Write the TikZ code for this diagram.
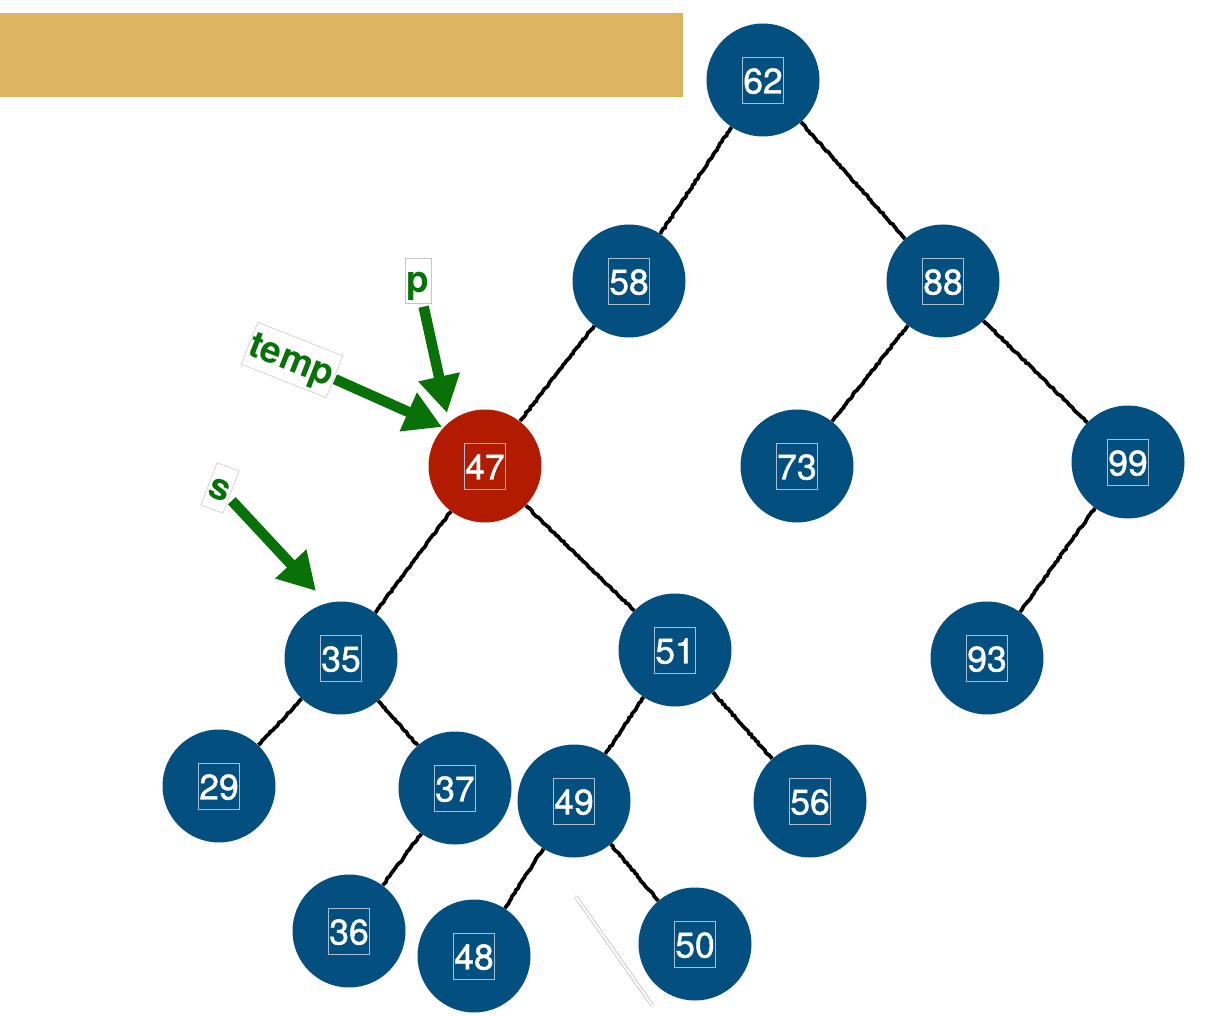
\documentclass[tikz,border=0pt]{standalone}
\usepackage{fontspec}
\setmainfont{TeX Gyre Heros}
\newfontfamily\numfont[FakeBold=1.2]{TeX Gyre Heros}
\usetikzlibrary{arrows.meta,decorations.pathmorphing}
\definecolor{treeblue}{HTML}{034F80}
\definecolor{treered}{HTML}{B31B00}
\definecolor{gold}{HTML}{DDB562}
\definecolor{arrowgreen}{HTML}{087208}
\definecolor{nbline}{HTML}{A8BFD3}
\newcommand\nbox[1]{{\fboxsep=0.6pt\fboxrule=0.7pt\color{nbline}\fbox{\color{white}\rule[-0.24em]{0pt}{1.24em}#1}}}
\begin{document}
\begin{tikzpicture}[x=1pt,y=-1pt,
  tn/.style={circle, fill=treeblue, minimum size=113pt, inner sep=0pt,
    font=\numfont\fontsize{35.5}{35.5}\selectfont},
  rn/.style={tn, fill=treered},
  edge/.style={draw=black, line width=3.7pt,
    decorate, decoration={random steps, segment length=2.5pt, amplitude=0.7pt}},
  lbl/.style={draw=gray!45, line width=0.5pt, text=arrowgreen,
    font=\fontsize{37}{37}\selectfont\bfseries, inner xsep=1.5pt, inner ysep=1pt,
    text height=33pt, text depth=10pt, fill=white},
  garrow/.style={draw=arrowgreen, line width=10.5pt,
    -{Triangle[length=37pt,width=40pt]}}
]
\useasboundingbox (0,0) rectangle (1232,1016);
\fill[gold] (0,13) rectangle (683,97);

\node[tn] (n62) at (763,80) {\nbox{62}};
\node[tn] (n58) at (629,281) {\nbox{58}};
\node[tn] (n88) at (943,281) {\nbox{88}};
\node[rn] (n47) at (485,466) {\nbox{47}};
\node[tn] (n73) at (797,466) {\nbox{73}};
\node[tn] (n99) at (1128,462) {\nbox{99}};
\node[tn] (n35) at (341,658) {\nbox{35}};
\node[tn] (n51) at (675,650) {\nbox{51}};
\node[tn] (n93) at (987,658) {\nbox{93}};
\node[tn] (n29) at (219,786) {\nbox{29}};
\node[tn] (n37) at (455,788) {\nbox{37}};
\node[tn] (n49) at (574,801) {\nbox{49}};
\node[tn] (n56) at (810,801) {\nbox{56}};
\node[tn] (n36) at (349,931) {\nbox{36}};
\node[tn] (n48) at (474,956) {\nbox{48}};
\node[tn] (n50) at (695,944) {\nbox{50}};

\foreach \a/\b in {n62/n58, n62/n88, n58/n47, n88/n73, n88/n99, n47/n35,
  n47/n51, n99/n93, n35/n29, n35/n37, n37/n36, n51/n49, n51/n56, n49/n48, n49/n50}
  \path[edge] (\a) -- (\b);

\node[lbl, rotate=-21.5] (temp) at (292,360) {temp};
\node[lbl] (p) at (418,281) {p};
\node[lbl, rotate=-21] (s) at (220,488) {s};

\coordinate (tempTip) at (442,427);
\coordinate (pTip) at (447,413);
\coordinate (sTip) at (316,591);

\draw[garrow, shorten <=1pt] (temp) -- (tempTip);
\draw[garrow, shorten <=3pt] (p) -- (pTip);
\draw[garrow, shorten <=4pt] (s) -- (sTip);

\draw[gray!55, line width=0.7pt, double=white, double distance=2.2pt, line cap=round]
  (576,897) -- (652,1005);
\end{tikzpicture}
\end{document}
